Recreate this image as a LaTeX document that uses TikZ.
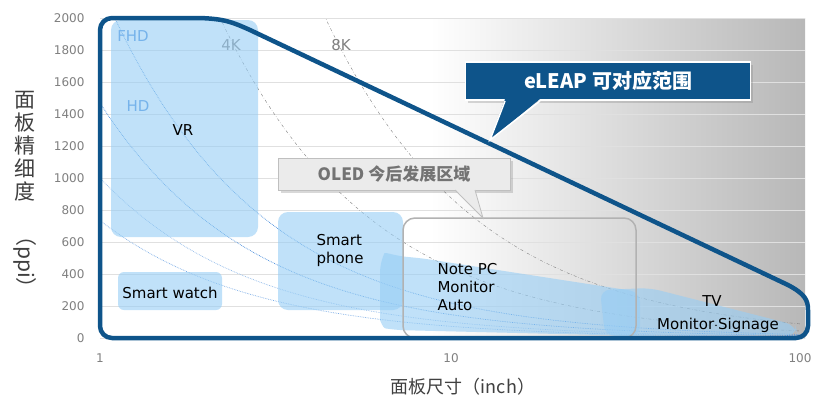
\documentclass[tikz,border=0pt]{standalone}
\usepackage{fontspec}
\setmainfont{DejaVu Sans}
\newfontfamily\cjk{Noto Sans CJK SC}
\usetikzlibrary{shapes.callouts,shadows}
\definecolor{eblue}{RGB}{14,84,138}
\definecolor{lblue}{RGB}{150,205,245}
\definecolor{dblue}{RGB}{70,140,220}
\tikzset{
 region/.style={fill=lblue,fill opacity=0.6,draw=none,rounded corners=10pt},
 tick/.style={text=gray,font=\fontsize{12}{13}\selectfont},
 lab/.style={font=\fontsize{15}{18}\selectfont,align=left},
 curveb/.style={dblue,densely dotted,line width=0.7pt},
 curveg/.style={gray,dash dot,line width=0.4pt},
}
\begin{document}
\begin{tikzpicture}[x=1pt,y=-1pt]
\useasboundingbox (0,0) rectangle (831,407);
\fill[white] (0,0) rectangle (831,407);
% background gradient
\shade[left color=white,right color=black!28] (430,18) rectangle (805,338);
\foreach \k in {0,...,10}{\draw[black!12] (100,{18+32*\k}) -- (805,{18+32*\k});}
\foreach \k/\v in {0/2000,1/1800,2/1600,3/1400,4/1200,5/1000,6/800,7/600,8/400,9/200,10/0}
  \node[tick,anchor=east] (y\k) at (88,{18+32*\k}) {\v};
\node[tick] (x1) at (100,358) {1};
\node[tick] (x10) at (451,358) {10};
\node[tick] (x100) at (800,358) {100};
% curves
\begin{scope}
\clip (100,18) rectangle (805,338);
\draw[curveb] plot[domain=0:2,samples=80,variable=\t] ({100+350*\t},{338-0.16*1468/10^\t});
\draw[curveb] plot[domain=0.04:2,samples=80,variable=\t] ({100+350*\t},{338-0.16*2203/10^\t});
\draw[curveb,dblue!70] plot[domain=0:2,samples=80,variable=\t] ({100+350*\t},{338-0.16*734/10^\t});
\draw[curveb,dblue!60] plot[domain=0:2,samples=80,variable=\t] ({100+350*\t},{338-0.16*1000/10^\t});
\draw[curveg] plot[domain=0.34:2,samples=80,variable=\t] ({100+350*\t},{338-0.16*4406/10^\t});
\draw[curveg] plot[domain=0.64:2,samples=80,variable=\t] ({100+350*\t},{338-0.16*8812/10^\t});
\end{scope}
\node[text=dblue,font=\fontsize{15}{16}\selectfont] (fhd) at (133,36) {FHD};
\node[text=dblue,font=\fontsize{15}{16}\selectfont] (hd) at (138,106) {HD};
\node[text=gray,font=\fontsize{15}{16}\selectfont] (k4) at (231,45) {4K};
\node[text=gray,font=\fontsize{15}{16}\selectfont] (k8) at (341,45) {8K};
% regions
\fill[region] (111,20) rectangle (258,237);
\fill[region,rounded corners=6pt] (118,272) rectangle (222,310);
\fill[region] (278,212) rectangle (403,310);
\fill[region] (380,262) .. controls (385,252) and (395,256) .. (420,258) -- (640,292) -- (640,336) -- (395,330) .. controls (383,328) and (380,320) .. (380,310) -- cycle;
\fill[region] (600,290) -- (650,288) -- (795,325) -- (798,335) -- (605,336) -- cycle;
\node[lab] (vr) at (183,130) {VR};
\node[lab] (sw) at (170,293) {Smart watch};
\node[lab] (sp) at (340,250) {Smart\\phone};
\node[lab,anchor=north west] (npc) at (434,260) {Note PC\\Monitor\\Auto};
\node[lab] (tv) at (712,301) {TV};
\node[lab] (tv2) at (718,325) {Monitor$\cdot$Signage};
% OLED box
\draw[black!30,line width=1.5pt,rounded corners=12pt] (403,218) rectangle (636,338);
\node[draw=black!25,fill=black!8,line width=0.8pt,drop shadow={opacity=0.3},minimum width=232pt,minimum height=32pt,text=black!55,font=\cjk\bfseries\fontsize{17}{18}\selectfont] (oled) at (394,174) {OLED 今后发展区域};
\coordinate (otip) at (483,218);
\fill[black!8] (455,189) -- (otip) -- (475,189) -- cycle;
\draw[black!25,line width=0.8pt] (455,190) -- (otip) -- (475,190);
% eLEAP boundary
\draw[eblue,line width=4.5pt,line join=round] (100,326) -- (100,30) arc[start angle=180,end angle=270,radius=12] -- (200,18) .. controls (225,19) and (232,22) .. (250,30) -- (788,285) .. controls (805,294) and (808,300) .. (808,310) -- (808,326) arc[start angle=0,end angle=90,radius=12] -- (112,338) arc[start angle=90,end angle=180,radius=12];
\node[fill=eblue,draw=white,line width=1.5pt,minimum width=285pt,minimum height=38pt,text=white,font=\cjk\bfseries\fontsize{20}{22}\selectfont,drop shadow={opacity=0.3}] (eleap) at (608,81) {eLEAP 可对应范围};
\coordinate (etip) at (490,140);
\fill[eblue] (505,99) -- (etip) -- (540,99) -- cycle;
\draw[white,line width=1.5pt] (505,101) -- (etip) -- (540,101);
% axis titles
\node[font=\cjk\fontsize{18}{19}\selectfont,text=black!75] (xt) at (463,387) {面板尺寸（inch）};
\node[font=\cjk\fontsize{21}{23}\selectfont,text=black!75,align=center,inner sep=0pt] (yt1) at (25,146) {面\\板\\精\\细\\度};
\node[font=\cjk\fontsize{21}{23}\selectfont,text=black!75,rotate=-90,inner sep=0pt] (yt2) at (25,262) {（ppi）};
\end{tikzpicture}
\end{document}
